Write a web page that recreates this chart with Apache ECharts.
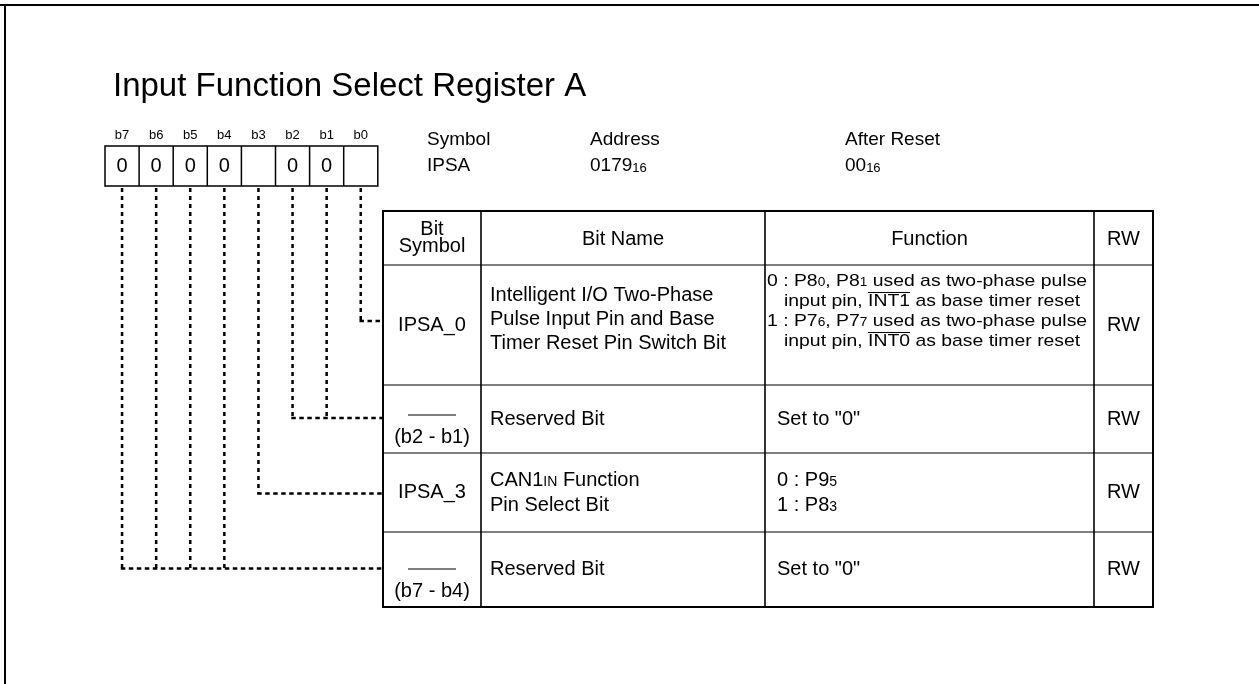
<!DOCTYPE html>
<html><head><meta charset="utf-8">
<script src="https://cdn.jsdelivr.net/npm/echarts@6/dist/echarts.min.js"></script>
<style>html,body{margin:0;padding:0;background:#fff}#c{width:1259px;height:684px}</style>
</head><body><div id="c"></div>
<script>
// ---------- content ----------
const title = 'Input Function Select Register A';
const bitLabels = ['b7','b6','b5','b4','b3','b2','b1','b0'];
const bitValues = ['0','0','0','0','','0','0',''];
const infoHeaders = ['Symbol','Address','After Reset'];
const infoValues = ['IPSA','0179{s|16}','00{s|16}'];
const tableHeaders = ['Bit\nSymbol','Bit Name','Function','RW'];
const rowSymbols = ['IPSA_0', '', 'IPSA_3', ''];
const rowRanges = ['', '(b2 - b1)', '', '(b7 - b4)'];
const rowNames = [
  ['Intelligent I/O Two-Phase','Pulse Input Pin and Base','Timer Reset Pin Switch Bit'],
  ['Reserved Bit'],
  ['CAN1{c|IN} Function','Pin Select Bit'],
  ['Reserved Bit']
];
const rowFunctions = [
  ['0 : P8{s|0}, P8{s|1} used as two-phase pulse', '>input pin, ~INT1~ as base timer reset',
   '1 : P7{s|6}, P7{s|7} used as two-phase pulse', '>input pin, ~INT0~ as base timer reset'],
  ['Set to "0"'],
  ['0 : P9{s|5}','1 : P8{s|3}'],
  ['Set to "0"']
];
const rowRW = ['RW','RW','RW','RW'];
const rowBits = [[0],[2,1],[3],[7,6,5,4]];

// ---------- layout ----------
const FF = '"Liberation Sans", Arial, Helvetica, sans-serif';
const L = {
  title: {x:113, y:87, size:33},
  reg: {x:105, y:146, w:34.1, h:40, labelY:135, labelSize:13, valSize:20},
  info: {xs:[427, 590, 845], y1:140, y2:166, size:19},
  cols: [383, 481, 765, 1094, 1153],
  rows: [211, 265, 385, 453, 532, 607],
  size: 20,
  funcSize: [17, 20, 20, 20],
  funcScale: [1.14, 1, 1, 1],
  nameX: 490,
  funcX: [767, 777, 777, 777],
  funcIndent: 17,
  nameOff: [-6, 0, 0, 0],
  nameLH: [24, 24, 25, 24],
  funcOff: [-14, 0, 0, 0],
  funcLH: [20, 24, 25, 24],
  connOff: [-4, -1, 1, -1]
};

function rich(size) {
  const ss = Math.round(size*0.68), cs = Math.round(size*0.7);
  return {
    s: {fontSize: ss, fontFamily: FF, fill:'#000', lineHeight: ss, verticalAlign:'bottom', padding:[0,0,Math.round(size*0.12),0]},
    c: {fontSize: cs, fontFamily: FF, fill:'#000', lineHeight: cs, verticalAlign:'bottom', padding:[0,0,Math.round(size*0.12),0]}
  };
}
function txt(text, x, y, o) {
  o = o || {};
  const size = o.size || L.size;
  return {type:'text', silent:true, z:10, x, y, scaleX: o.scaleX || 1, style:{
    text, x:0, y:0, fill:'#000', fontFamily: FF, fontSize: size,
    align: o.align || 'left', verticalAlign:'middle',
    lineHeight: o.lh || Math.round(size*1.15), rich: rich(size)
  }};
}
function line(x1,y1,x2,y2,w,dash) {
  return {type:'line', silent:true, z:5, shape:{x1,y1,x2,y2},
    style:{stroke:'#000', lineWidth:w, lineDash: dash || null, lineCap:'butt'}};
}
const ctx = document.createElement('canvas').getContext('2d');
function measure(s, size) { ctx.font = size + 'px ' + FF; return ctx.measureText(s).width; }

const els = [];
// frame
els.push(line(0, 5, 1259, 5, 2));
els.push(line(5, 4, 5, 684, 2));
// title
els.push(txt(title, L.title.x, L.title.y, {size: L.title.size}));
// register box
const R = L.reg;
els.push({type:'rect', silent:true, z:5, shape:{x:R.x, y:R.y, width:R.w*8, height:R.h},
  style:{fill:'none', stroke:'#000', lineWidth:1.5}});
for (let i = 1; i < 8; i++) els.push(line(R.x + R.w*i, R.y, R.x + R.w*i, R.y+R.h, 1.5));
bitLabels.forEach((b, i) => {
  const cx = R.x + R.w*(i+0.5);
  els.push(txt(b, cx, R.labelY, {size:R.labelSize, align:'center'}));
  if (bitValues[i]) els.push(txt(bitValues[i], cx, R.y + R.h/2, {size:R.valSize, align:'center'}));
});
// info
infoHeaders.forEach((h, i) => {
  els.push(txt(h, L.info.xs[i], L.info.y1, {size:L.info.size}));
  els.push(txt(infoValues[i], L.info.xs[i], L.info.y2, {size:L.info.size}));
});
// table grid
const C = L.cols, RW = L.rows;
els.push({type:'rect', silent:true, z:6, shape:{x:C[0], y:RW[0], width:C[4]-C[0], height:RW[5]-RW[0]},
  style:{fill:'none', stroke:'#000', lineWidth:2}});
for (let i = 1; i < 4; i++) els.push(line(C[i], RW[0], C[i], RW[5], 1.6));
for (let j = 1; j < 5; j++) els.push(line(C[0], RW[j], C[4], RW[j], 1.1));
// headers
const hy = (RW[0]+RW[1])/2;
els.push(txt(tableHeaders[0], (C[0]+C[1])/2, hy, {align:'center', lh:17}));
for (let i = 1; i < 4; i++) els.push(txt(tableHeaders[i], (C[i]+C[i+1])/2, hy + 1, {align:'center'}));
// rows
for (let r = 0; r < 4; r++) {
  const top = RW[r+1], bot = RW[r+2], cy = (top+bot)/2;
  const sx = (C[0]+C[1])/2;
  if (rowSymbols[r]) {
    els.push(txt(rowSymbols[r], sx, cy, {align:'center'}));
  } else {
    const ty = bot - 16;
    els.push(line(sx - 24, ty - 22, sx + 24, ty - 22, 1.2));
    els.push(txt(rowRanges[r], sx, ty, {align:'center'}));
  }
  // name
  const nl = rowNames[r], nlh = L.nameLH[r];
  nl.forEach((t, k) => {
    const y = cy + L.nameOff[r] + (k - (nl.length-1)/2) * nlh;
    els.push(txt(t, L.nameX, y));
  });
  // function
  const fl = rowFunctions[r], flh = L.funcLH[r];
  const fs = L.funcSize[r], sc = L.funcScale[r];
  fl.forEach((t0, k) => {
    const y = cy + L.funcOff[r] + (k - (fl.length-1)/2) * flh;
    let x = L.funcX[r], t = t0;
    if (t.startsWith('>')) { x += L.funcIndent; t = t.slice(1); }
    const parts = t.split('~');
    if (parts.length === 3) {
      const px = x + measure(parts[0], fs)*sc, w = measure(parts[1], fs)*sc;
      els.push(line(px, y - fs*0.5, px + w, y - fs*0.5, 1.1));
      t = parts.join('');
    }
    els.push(txt(t, x, y, {size: fs, scaleX: sc}));
  });
  // RW
  els.push(txt(rowRW[r], (C[3]+C[4])/2, cy, {align:'center'}));
  // connectors
  const gy = cy + L.connOff[r];
  const bxs = rowBits[r].map(b => R.x + R.w*(7 - b + 0.5));
  const minx = Math.min.apply(null, bxs);
  bxs.forEach(bx => els.push(line(bx, R.y + R.h + 2, bx, gy, 2.5, [4, 4])));
  els.push(line(minx - 1.25, gy, C[0], gy, 2.5, [4.5, 3.5]));
}

const chart = echarts.init(document.getElementById('c'), null, {renderer:'canvas'});
chart.setOption({backgroundColor:'#fff', animation:false, graphic:{elements: els}});
</script></body></html>
